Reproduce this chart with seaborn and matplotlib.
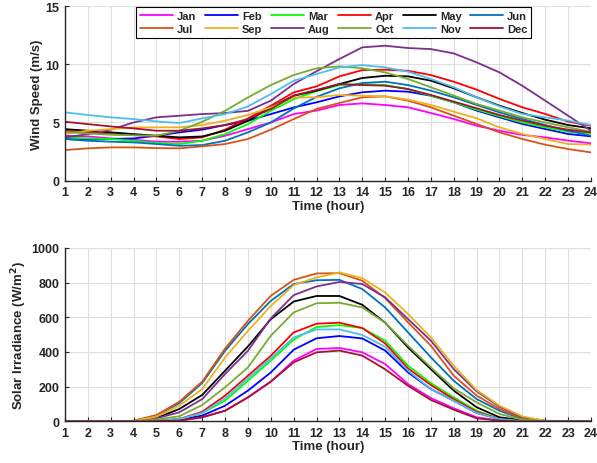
import numpy as np
import pandas as pd
import seaborn as sns
import matplotlib.pyplot as plt

hours = list(range(1, 25))
months = ['Jan', 'Feb', 'Mar', 'Apr', 'May', 'Jun', 'Jul', 'Aug', 'Sep', 'Oct', 'Nov', 'Dec']

# wind speed (m/s), hourly profile per month
wind_jan = [3.86, 3.80, 3.63, 3.52, 3.35, 3.35, 3.43, 3.86, 4.43, 5.00, 5.72, 6.02, 6.50, 6.64, 6.50, 6.30, 5.81, 5.30, 4.72, 4.29, 3.93, 3.72, 3.44, 3.21]
wind_feb = [3.58, 3.52, 3.58, 3.63, 3.86, 4.15, 4.38, 4.78, 5.15, 5.72, 6.29, 6.73, 7.24, 7.59, 7.73, 7.64, 7.30, 6.73, 6.02, 5.44, 4.87, 4.44, 4.01, 3.81]
wind_mar = [3.72, 3.63, 3.58, 3.43, 3.23, 3.15, 3.43, 4.00, 4.86, 6.00, 7.00, 7.70, 8.21, 8.30, 8.21, 7.87, 7.30, 6.73, 6.10, 5.53, 5.00, 4.58, 4.20, 4.09]
wind_apr = [4.29, 4.15, 4.00, 3.92, 3.80, 3.58, 3.72, 4.38, 5.35, 6.44, 7.58, 8.10, 8.96, 9.50, 9.53, 9.44, 9.07, 8.50, 7.82, 7.02, 6.30, 5.73, 5.07, 4.72]
wind_may = [4.43, 4.29, 4.15, 4.00, 3.86, 3.72, 3.80, 4.29, 5.15, 6.29, 7.30, 7.73, 8.30, 8.82, 9.01, 8.96, 8.59, 7.93, 7.16, 6.44, 5.81, 5.24, 4.78, 4.50]
wind_jun = [3.58, 3.43, 3.35, 3.29, 3.15, 3.00, 3.06, 3.43, 4.15, 5.00, 6.20, 7.20, 7.93, 8.39, 8.50, 8.21, 7.73, 7.16, 6.50, 5.87, 5.30, 4.78, 4.29, 3.87]
wind_jul = [2.63, 2.78, 2.86, 2.86, 2.80, 2.78, 2.95, 3.15, 3.58, 4.38, 5.29, 6.16, 6.67, 7.16, 7.24, 6.87, 6.30, 5.58, 4.87, 4.15, 3.58, 3.09, 2.72, 2.43]
wind_aug = [3.72, 4.00, 4.38, 5.00, 5.44, 5.58, 5.72, 5.81, 6.00, 6.87, 8.30, 9.40, 10.45, 11.45, 11.59, 11.39, 11.30, 10.93, 10.16, 9.30, 8.15, 6.87, 5.58, 4.29]
wind_sep = [4.00, 4.29, 4.43, 4.58, 4.58, 4.58, 4.78, 5.15, 5.64, 6.29, 7.15, 7.16, 7.36, 7.30, 7.24, 6.96, 6.50, 5.93, 5.36, 4.58, 4.01, 3.58, 3.15, 3.09]
wind_oct = [4.20, 4.05, 3.95, 3.90, 3.86, 4.29, 5.06, 6.00, 7.15, 8.21, 9.07, 9.65, 9.82, 9.65, 9.30, 8.73, 8.02, 7.31, 6.59, 6.02, 5.44, 5.00, 4.58, 4.20]
wind_nov = [5.87, 5.64, 5.44, 5.29, 5.09, 4.95, 5.35, 5.72, 6.38, 7.44, 8.58, 9.16, 9.73, 9.93, 9.73, 9.36, 8.73, 8.02, 7.16, 6.38, 5.73, 5.44, 5.16, 4.78]
wind_dec = [5.06, 4.86, 4.66, 4.49, 4.29, 4.29, 4.49, 4.78, 5.29, 6.15, 7.30, 7.80, 8.30, 8.21, 8.16, 7.87, 7.36, 6.79, 6.22, 5.64, 5.16, 4.72, 4.38, 4.15]

# solar irradiance (W/m2)
sun_jan = [0, 0, 0, 0, 1, 4, 23, 61, 138, 229, 350, 417, 423, 398, 330, 215, 134, 75, 23, 4, 0, 0, 0, 0]
sun_feb = [0, 0, 0, 0, 2, 8, 33, 90, 177, 282, 413, 479, 492, 478, 408, 282, 186, 119, 48, 13, 2, 0, 0, 0]
sun_mar = [0, 0, 0, 0, 2, 13, 48, 119, 234, 350, 471, 544, 555, 538, 465, 321, 220, 138, 61, 13, 2, 0, 0, 0]
sun_apr = [0, 0, 0, 0, 2, 13, 55, 148, 263, 378, 513, 563, 569, 538, 449, 305, 209, 128, 55, 13, 2, 0, 0, 0]
sun_may = [0, 0, 0, 0, 19, 71, 152, 292, 432, 589, 691, 723, 723, 672, 569, 426, 301, 177, 81, 23, 6, 1, 0, 0]
sun_jun = [0, 0, 0, 1, 33, 105, 221, 407, 561, 695, 792, 814, 816, 763, 657, 513, 369, 234, 128, 61, 13, 2, 0, 0]
sun_jul = [0, 0, 0, 3, 36, 113, 229, 420, 580, 724, 816, 853, 855, 811, 711, 571, 436, 263, 148, 71, 17, 2, 0, 0]
sun_aug = [0, 0, 0, 0, 17, 52, 128, 273, 407, 594, 728, 778, 804, 792, 715, 590, 465, 301, 173, 84, 23, 3, 0, 0]
sun_sep = [0, 0, 0, 1, 27, 90, 186, 368, 522, 666, 786, 830, 859, 826, 743, 619, 484, 321, 180, 90, 28, 3, 0, 0]
sun_oct = [0, 0, 0, 0, 10, 29, 94, 196, 311, 494, 628, 681, 684, 657, 569, 436, 311, 190, 109, 42, 10, 1, 0, 0]
sun_nov = [0, 0, 0, 0, 2, 13, 48, 132, 248, 363, 484, 530, 530, 498, 430, 292, 186, 119, 48, 13, 2, 0, 0, 0]
sun_dec = [0, 0, 0, 0, 1, 4, 23, 61, 138, 229, 340, 398, 408, 379, 300, 205, 123, 67, 17, 4, 0, 0, 0, 0]

wind = [wind_jan, wind_feb, wind_mar, wind_apr, wind_may, wind_jun,
        wind_jul, wind_aug, wind_sep, wind_oct, wind_nov, wind_dec]
sun = [sun_jan, sun_feb, sun_mar, sun_apr, sun_may, sun_jun,
       sun_jul, sun_aug, sun_sep, sun_oct, sun_nov, sun_dec]

colors = ['#FF00FF', '#0000FF', '#00FF00', '#FF0000', '#000000', '#0072BD',
          '#D95319', '#7E2F8E', '#EDB120', '#77AC30', '#4DBEEE', '#A2142F']
palette = dict(zip(months, colors))

df = pd.DataFrame({
    'hour': hours * 12,
    'month': np.repeat(months, 24),
    'wind': np.concatenate(wind),
    'sun': np.concatenate(sun),
})

sns.set_style('whitegrid')
plt.rcParams['font.family'] = ['Liberation Sans', 'DejaVu Sans']
plt.rcParams['font.weight'] = 'bold'

fig = plt.figure(figsize=(5.97, 4.64), dpi=100)
ax1 = fig.add_axes([0.1089, 0.6084, 0.881, 0.3765])
ax2 = fig.add_axes([0.1089, 0.0899, 0.881, 0.3735])

sns.lineplot(data=df, x='hour', y='wind', hue='month', hue_order=months,
             palette=palette, linewidth=1.3, ax=ax1)
sns.lineplot(data=df, x='hour', y='sun', hue='month', hue_order=months,
             palette=palette, linewidth=1.3, legend=False, ax=ax2)

for ax in (ax1, ax2):
    ax.set_xlim(1, 24)
    ax.set_xticks(hours)
    ax.grid(True, color='#dedede', linewidth=0.8)
    for s in ('top', 'right'):
        ax.spines[s].set_visible(False)
    for s in ('left', 'bottom'):
        ax.spines[s].set_color('#262626')
        ax.spines[s].set_linewidth(1.0)
    ax.tick_params(direction='in', length=3, width=0.8, colors='#262626',
                   labelsize=9, pad=4, left=True, bottom=True)
    for lab in ax.get_xticklabels() + ax.get_yticklabels():
        lab.set_fontweight('bold')
    ax.set_xlabel('Time (hour)', fontsize=9.5, fontweight='bold', labelpad=1)

ax1.set_ylim(0, 15)
ax1.set_yticks([0, 5, 10, 15])
ax1.set_ylabel('Wind Speed (m/s)', fontsize=9.5, fontweight='bold', labelpad=2)

ax2.set_ylim(0, 1000)
ax2.set_yticks(range(0, 1001, 200))
ax2.set_ylabel('Solar Irradiance (W/m$^2$)', fontsize=9.5, fontweight='bold', labelpad=2)

# legend: two rows of six, filled column-wise
handles, labels = ax1.get_legend_handles_labels()
lookup = dict(zip(labels, handles))
order = ['Jan', 'Jul', 'Feb', 'Sep', 'Mar', 'Aug', 'Apr', 'Oct', 'May', 'Nov', 'Jun', 'Dec']
leg = ax1.legend([lookup[m] for m in order], order, ncol=6, loc='upper left',
                 bbox_to_anchor=(0.135, 0.994), fontsize=8, frameon=True,
                 fancybox=False, edgecolor='black', framealpha=1,
                 handlelength=3.0, handletextpad=0.35, columnspacing=0.75,
                 borderpad=0.35, labelspacing=0.3, borderaxespad=0)
leg.get_frame().set_linewidth(0.8)
for t in leg.get_texts():
    t.set_fontweight('bold')

fig.savefig('out.png', dpi=100)
